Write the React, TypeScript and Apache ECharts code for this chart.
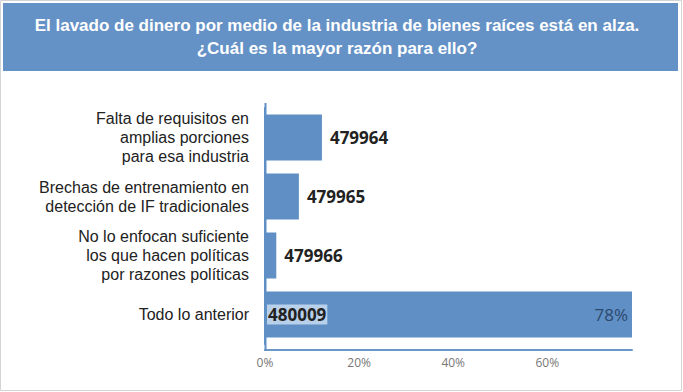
import React, { useEffect, useRef } from "react";
import * as echarts from "echarts";

const titleText =
  "El lavado de dinero por medio de la industria de bienes raíces está en alza.\n¿Cuál es la mayor razón para ello?";

const categories = [
  "Falta de requisitos en\namplias porciones\npara esa industria",
  "Brechas de entrenamiento en\ndetección de IF tradicionales",
  "No lo enfocan suficiente\nlos que hacen políticas\npor razones políticas",
  "Todo lo anterior",
];
const values = [12.1, 7.2, 2.4, 78];
const ids = ["479964", "479965", "479966", "480009"];
const pctLabels = [null, null, null, 78];
const xTicks = [0, 20, 40, 60];

const BLUE = "#5f8fc5";

export default function App() {
  const ref = useRef<HTMLDivElement>(null);
  useEffect(() => {
    if (!ref.current) return;
    const chart = echarts.init(ref.current, null, { renderer: "svg" });
    const last = values.length - 1;
    chart.setOption({
      animation: false,
      backgroundColor: "#ffffff",
      graphic: [
        {
          type: "rect",
          shape: { x: 0.5, y: 0.5, width: 681, height: 390 },
          style: { fill: "none", stroke: "#d4d4d4", lineWidth: 1 },
          z: 0,
        },
        {
          type: "rect",
          shape: { x: 3, y: 3, width: 675, height: 68 },
          style: { fill: "#6592c6" },
          z: 0,
        },
        {
          type: "line",
          shape: { x1: 265.5, y1: 103, x2: 265.5, y2: 351 },
          style: { stroke: BLUE, lineWidth: 2 },
          z: 5,
        },
        {
          type: "text",
          x: 337,
          y: 14,
          z: 10,
          style: {
            text: titleText,
            align: "center",
            verticalAlign: "top",
            fill: "#ffffff",
            font: "bold 17px 'Liberation Sans', Arial, sans-serif",
            lineHeight: 23,
          },
        },
      ],
      grid: { left: 265, top: 108, width: 367, height: 236, containLabel: false },
      xAxis: {
        type: "value",
        min: 0,
        max: 78,
        interval: 20,
        offset: 6,
        axisLine: { show: true, lineStyle: { color: "#6a98c9", width: 2 } },
        axisTick: { show: false },
        splitLine: { show: false },
        axisLabel: {
          formatter: (v: number) => (xTicks.includes(v) ? v + "%" : ""),
          showMaxLabel: false,
          color: "#777777",
          fontSize: 12,
          fontFamily: "Open Sans, sans-serif",
          margin: 6,
        },
      },
      yAxis: {
        type: "category",
        data: categories,
        inverse: true,
        axisLine: { show: true, lineStyle: { color: BLUE, width: 2 } },
        axisTick: { show: false },
        axisLabel: {
          color: "#222222",
          fontSize: 16,
          lineHeight: 19,
          fontFamily: "Liberation Sans, Arial, sans-serif",
          margin: 16,
          align: "right",
        },
      },
      series: [
        {
          type: "bar",
          data: values.map((v, i) =>
            i === last
              ? {
                  value: v,
                  label: {
                    position: "insideLeft",
                    distance: 2,
                    backgroundColor: "#b9d0ea",
                    padding: [2, 1, 1, 1],
                  },
                }
              : v
          ),
          barWidth: 46,
          itemStyle: { color: BLUE },
          label: {
            show: true,
            position: "right",
            distance: 8,
            formatter: (p: any) => ids[p.dataIndex],
            color: "#222222",
            fontWeight: "bold",
            fontSize: 17,
            fontFamily: "Open Sans, sans-serif",
          },
          z: 2,
        },
        {
          type: "bar",
          data: pctLabels,
          barWidth: 46,
          barGap: "-100%",
          itemStyle: { color: "rgba(0,0,0,0)" },
          label: {
            show: true,
            position: "insideRight",
            distance: 4,
            formatter: (p: any) => p.value + "%",
            color: "#2c4a6e",
            fontSize: 17,
            fontFamily: "Open Sans, sans-serif",
          },
          z: 3,
        },
      ],
    });
    return () => chart.dispose();
  }, []);
  return (
    <div
      ref={ref}
      style={{ position: "absolute", left: 0, top: 0, width: 683, height: 392 }}
    />
  );
}
